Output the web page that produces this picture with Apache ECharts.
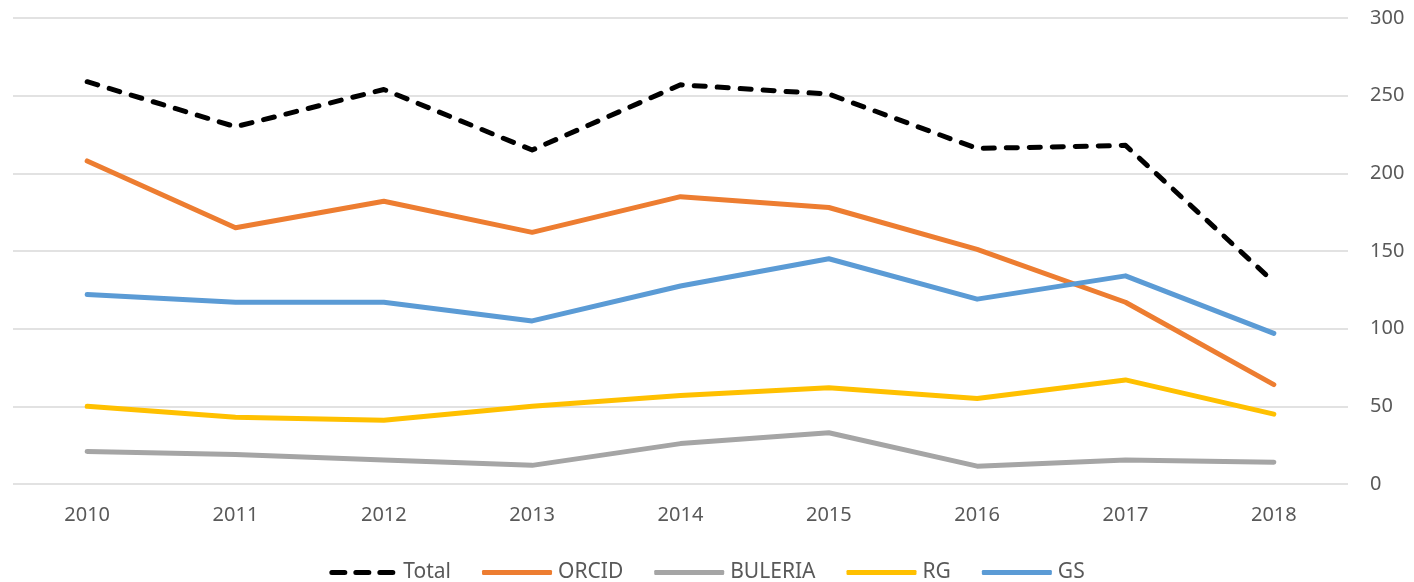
<!DOCTYPE html>
<html>
<head>
<meta charset="utf-8">
<script src="https://cdn.jsdelivr.net/npm/echarts@6/dist/echarts.min.js"></script>
<style>
  html, body { margin: 0; padding: 0; background: #fff; }
  #chart { width: 1414px; height: 582px; }
</style>
</head>
<body>
<div id="chart"></div>
<script>
// data
var years = ['2010', '2011', '2012', '2013', '2014', '2015', '2016', '2017', '2018'];
var total   = [259, 230, 254, 215, 257, 251, 216, 218, 130];
var orcid   = [208, 165, 182, 162, 185, 178, 151, 117, 64];
var buleria = [21, 19, 15.5, 12, 26, 33, 11.5, 15.5, 14];
var rg      = [50, 43, 41, 50, 57, 62, 55, 67, 45];
var gs      = [122, 117, 117, 105, 127.5, 145, 119, 134, 97];

var myChart = echarts.init(document.getElementById('chart'));

function line(name, data, color, dashed) {
  return {
    name: name,
    type: 'line',
    data: data,
    symbol: 'none',
    z: dashed ? 10 : 2,
    lineStyle: {
      color: color,
      width: 5,
      cap: 'round',
      join: 'round',
      type: dashed ? [11, 12] : 'solid'
    },
    itemStyle: { color: color }
  };
}

// dashed legend marker for Total, plain bar for the rest
var dashIcon = 'path://M2.5,0h13a2.5,2.5 0 0 1 0,5h-13a2.5,2.5 0 0 1 0,-5z' +
  'M26.5,0h13a2.5,2.5 0 0 1 0,5h-13a2.5,2.5 0 0 1 0,-5z' +
  'M50.5,0h13a2.5,2.5 0 0 1 0,5h-13a2.5,2.5 0 0 1 0,-5z';

myChart.setOption({
  animation: false,
  backgroundColor: '#fff',
  textStyle: { fontFamily: 'Noto Sans' },
  grid: { left: 13, right: 66, top: 18, bottom: 98 },
  legend: {
    left: 'center',
    top: 557,
    itemWidth: 70,
    itemHeight: 5,
    itemGap: 31,
    textStyle: { fontFamily: 'Noto Sans', fontSize: 21, color: '#595959', padding: [0, 0, 0, 1] },
    data: [
      { name: 'Total', icon: dashIcon },
      { name: 'ORCID', icon: 'roundRect' },
      { name: 'BULERIA', icon: 'roundRect' },
      { name: 'RG', icon: 'roundRect' },
      { name: 'GS', icon: 'roundRect' }
    ]
  },
  xAxis: {
    type: 'category',
    data: years,
    boundaryGap: true,
    axisLine: { show: false },
    axisTick: { show: false },
    axisLabel: { color: '#595959', fontSize: 20, margin: 21 }
  },
  yAxis: {
    type: 'value',
    position: 'right',
    min: 0,
    max: 300,
    interval: 50,
    axisLine: { show: false },
    axisTick: { show: false },
    axisLabel: { color: '#595959', fontSize: 20, margin: 22 },
    splitLine: { lineStyle: { color: '#D9D9D9', width: 1.5 } }
  },
  series: [
    line('Total', total, '#000000', true),
    line('ORCID', orcid, '#ED7D31'),
    line('BULERIA', buleria, '#A5A5A5'),
    line('RG', rg, '#FFC000'),
    line('GS', gs, '#5B9BD5')
  ]
});
</script>
</body>
</html>
